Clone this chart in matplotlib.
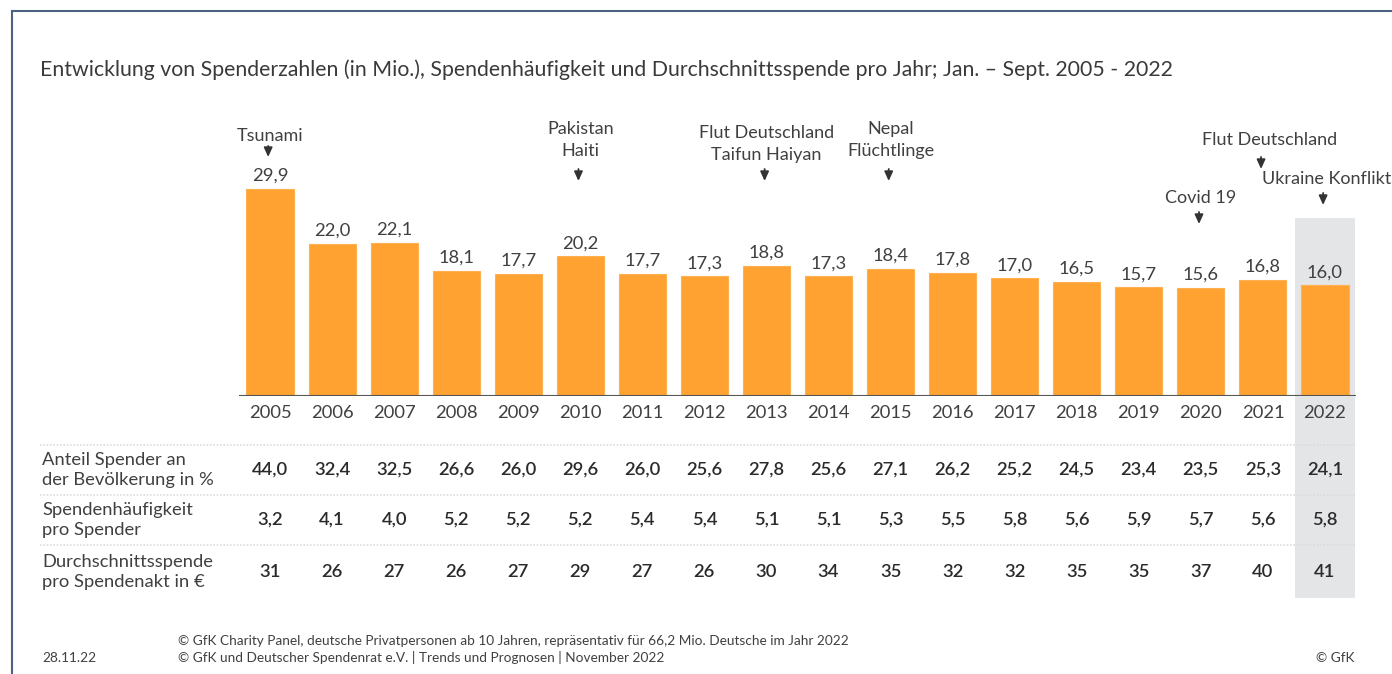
import matplotlib
matplotlib.use("Agg")
from matplotlib import pyplot as plt
from matplotlib.patches import Rectangle
from matplotlib.transforms import blended_transform_factory

plt.rcParams['font.family'] = ['Lato', 'DejaVu Sans']

years = ['2005', '2006', '2007', '2008', '2009', '2010', '2011', '2012', '2013',
         '2014', '2015', '2016', '2017', '2018', '2019', '2020', '2021', '2022']
spender = [29.9, 22.0, 22.1, 18.1, 17.7, 20.2, 17.7, 17.3, 18.8,
           17.3, 18.4, 17.8, 17.0, 16.5, 15.7, 15.6, 16.8, 16.0]
anteil = ['44,0', '32,4', '32,5', '26,6', '26,0', '29,6', '26,0', '25,6', '27,8',
          '25,6', '27,1', '26,2', '25,2', '24,5', '23,4', '23,5', '25,3', '24,1']
haeufigkeit = ['3,2', '4,1', '4,0', '5,2', '5,2', '5,2', '5,4', '5,4', '5,1',
               '5,1', '5,3', '5,5', '5,8', '5,6', '5,9', '5,7', '5,6', '5,8']
durchschnitt = ['31', '26', '27', '26', '27', '29', '27', '26', '30',
                '34', '35', '32', '32', '35', '35', '37', '40', '41']
row_labels = ['Anteil Spender an\nder Bevölkerung in %',
              'Spendenhäufigkeit\npro Spender',
              'Durchschnittsspende\npro Spendenakt in €']

# Ereignisse: Jahr-Index, Text
event_idx = [0, 5, 8, 10, 15, 16, 17]
event_txt = ['Tsunami', 'Pakistan\nHaiti', 'Flut Deutschland\nTaifun Haiyan',
             'Nepal\nFlüchtlinge', 'Covid 19', 'Flut Deutschland', 'Ukraine Konflikt']

W, H = 1392, 674
fig = plt.figure(figsize=(W / 100, H / 100), dpi=100)
txt_col = '#404040'
bar_col = '#FFA232'

def fy(py):
    return 1 - py / H

def fx(px):
    return px / W

# Rahmen
fig.add_artist(plt.Line2D([fx(12), 1], [fy(11), fy(11)], color='#4d6282', lw=1.5))
fig.add_artist(plt.Line2D([fx(12), fx(12)], [fy(11), 0], color='#4d6282', lw=1.5))

fig.text(fx(40), fy(70), 'Entwicklung von Spenderzahlen (in Mio.), Spendenhäufigkeit und '
         'Durchschnittsspende pro Jahr; Jan. – Sept. 2005 - 2022',
         fontsize=15.3, color='#3a3a3a', va='center', ha='left')

scale = 6.92  # px pro Einheit
ax_top, ax_bot = 100, 396
ax = fig.add_axes([fx(239), fy(ax_bot), fx(1356) - fx(239), (ax_bot - ax_top) / H])
ax.set_xlim(-0.5, 17.5)
ax.set_ylim(0, (ax_bot - ax_top) / scale)
ax.axis('off')
ax.patch.set_alpha(0)

def dy(py):
    return (ax_bot - py) / scale

x = list(range(len(years)))
# grauer Hintergrund 2022
bt = blended_transform_factory(ax.transData, fig.transFigure)
fig.add_artist(Rectangle((17 - 0.49, fy(598)), 0.97, fy(218) - fy(598),
                         transform=bt, facecolor='#e4e5e7', edgecolor='none', zorder=0))

ax.bar(x, spender, width=0.76, color=bar_col, edgecolor='#FFB04F', linewidth=0.8, zorder=2)
ax.axhline(0, color='#555555', lw=1.5, zorder=3)
for i, v in enumerate(spender):
    ax.text(i, v + 13 / scale, f'{v:.1f}'.replace('.', ','), ha='center', va='center',
            fontsize=13.2, color=txt_col)

# Ereignis-Beschriftungen (Textposition y in px, Pfeil oben/unten in px, x-Versatz)
text_y = [136, 140, 144, 140, 198, 140, 179]
arrow_y = [(146, 157), (169, 181), (169, 181), (169, 181), (212, 224), (157, 169), (193, 205)]
text_dx = [0, 0, 0, 0, 0, 0.1, 0.02]
for k, (i, t) in enumerate(zip(event_idx, event_txt)):
    ax.text(i + text_dx[k], dy(text_y[k]), t, ha='center', va='center', fontsize=13,
            color=txt_col, linespacing=1.45, clip_on=False)
    a0, a1 = arrow_y[k]
    ax.annotate('', xy=(i - 0.03, dy(a1)), xytext=(i - 0.03, dy(a0)),
                arrowprops=dict(arrowstyle='-|>,head_length=0.55,head_width=0.25',
                                color='#333333', lw=1.3, mutation_scale=10,
                                shrinkA=0, shrinkB=0), annotation_clip=False)

# Jahre
for i, yr in enumerate(years):
    ax.text(i, dy(413), yr, ha='center', va='center', fontsize=13.2, color=txt_col,
            clip_on=False)

# Tabelle
rows = [anteil, haeufigkeit, durchschnitt]
row_y = [470, 520, 572]
for sep in [445, 495, 545]:
    fig.add_artist(plt.Line2D([fx(40), fx(1356)], [fy(sep), fy(sep)], color='#d9dcdf',
                              lw=1.2, linestyle=(0, (1, 1))))
for r, vals in enumerate(rows):
    fig.text(fx(42), fy(row_y[r]), row_labels[r], ha='left', va='center', fontsize=13.2,
             color=txt_col, linespacing=1.35)
    for i, v in enumerate(vals):
        fig.text(i, fy(row_y[r]), v, transform=bt, ha='center', va='center',
                 fontsize=13.2, color='#2a2a2a', fontweight='semibold')

# Fußzeile
fig.text(fx(42), fy(658), '28.11.22', fontsize=9.8, color=txt_col, va='center')
fig.text(fx(178), fy(641), '© GfK Charity Panel, deutsche Privatpersonen ab 10 Jahren, '
         'repräsentativ für 66,2 Mio. Deutsche im Jahr 2022', fontsize=9.8,
         color=txt_col, va='center')
fig.text(fx(178), fy(658), '© GfK und Deutscher Spendenrat e.V. | Trends und Prognosen | '
         'November 2022', fontsize=9.8, color=txt_col, va='center')
fig.text(fx(1355), fy(658), '© GfK', fontsize=9.8, color=txt_col, va='center', ha='right')

fig.savefig('out.png', dpi=100)
